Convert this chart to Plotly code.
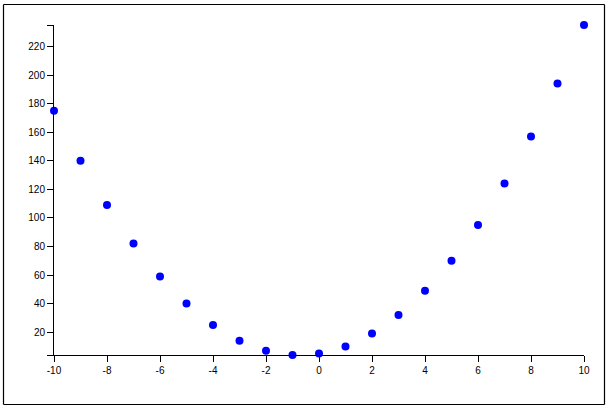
import plotly.graph_objects as go

x_values = [-10, -9, -8, -7, -6, -5, -4, -3, -2, -1, 0, 1, 2, 3, 4, 5, 6, 7, 8, 9, 10]
y_values = [175, 140, 109, 82, 59, 40, 25, 14, 7, 4, 5, 10, 19, 32, 49, 70, 95, 124, 157, 194, 235]
x_ticks = [-10, -8, -6, -4, -2, 0, 2, 4, 6, 8, 10]
y_ticks = [20, 40, 60, 80, 100, 120, 140, 160, 180, 200, 220]

ymin, ymax = min(y_values), max(y_values)
xmin, xmax = min(x_values), max(x_values)

W, H = 612, 408
L, R, T, B = 54, 28, 25, 53
pw, ph = W - L - R, H - T - B

fig = go.Figure()
fig.add_trace(go.Scatter(
    x=x_values, y=y_values, mode="markers",
    marker=dict(color="#0000ff", size=8, line=dict(width=0)),
    cliponaxis=False, hoverinfo="x+y", showlegend=False,
))

yt = y_ticks + [ymin, ymax]
ytt = [str(v) for v in y_ticks] + ["", ""]

font = dict(family="Liberation Sans, Arial, sans-serif", size=10, color="#000")

fig.update_layout(
    width=W, height=H,
    margin=dict(l=L, r=R, t=T, b=B, pad=0),
    paper_bgcolor="white", plot_bgcolor="white",
    font=font,
    xaxis=dict(range=[xmin, xmax], tickvals=x_ticks, ticktext=[str(v) for v in x_ticks],
               showgrid=False, zeroline=False, showline=True, linecolor="black", linewidth=1,
               ticks="outside", ticklen=6, tickwidth=1, tickcolor="black", tickfont=font),
    yaxis=dict(range=[ymin, ymax], tickvals=yt, ticktext=ytt,
               showgrid=False, zeroline=False, showline=True, linecolor="black", linewidth=1,
               ticks="outside", ticklen=6, tickwidth=1, tickcolor="black", tickfont=font),
)

# outer border frame, drawn as four lines
px0, px1 = 3.5, 604.5
py0, py1 = 4.5, 404.5
X0, X1 = (px0 - L) / pw, (px1 - L) / pw
Y0, Y1 = (H - B - py1) / ph, (H - B - py0) / ph
for (a, b, c, d) in [(X0, Y0, X1, Y0), (X0, Y1, X1, Y1), (X0, Y0, X0, Y1), (X1, Y0, X1, Y1)]:
    fig.add_shape(type="line", xref="paper", yref="paper", x0=a, y0=b, x1=c, y1=d,
                  line=dict(color="black", width=1.2), layer="above")

fig.write_html("out.html", config={"displayModeBar": False},
               post_script="document.body.style.margin='0px';document.body.style.padding='0px';")
